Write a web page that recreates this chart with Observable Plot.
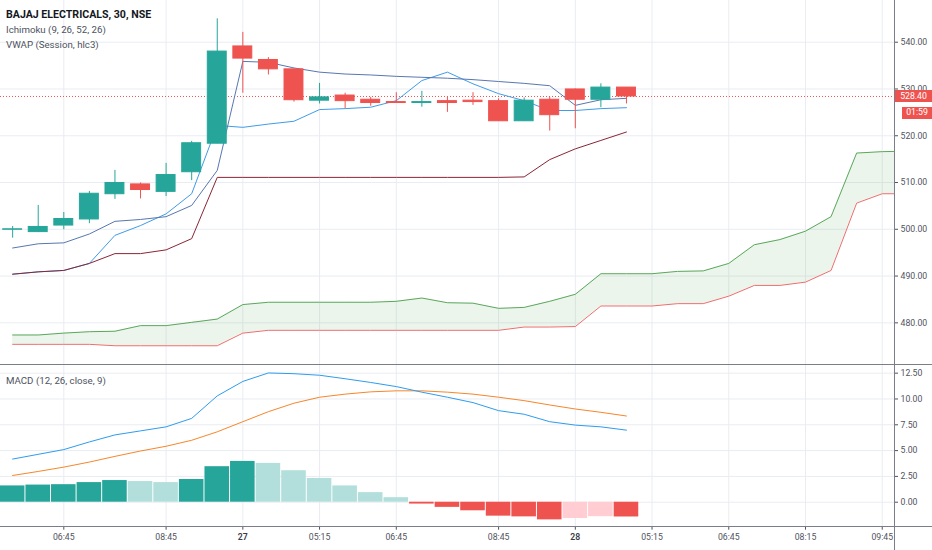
<!DOCTYPE html>
<html><head><meta charset="utf-8">
<script src="https://cdn.jsdelivr.net/npm/d3@7"></script>
<script src="https://cdn.jsdelivr.net/npm/@observablehq/plot@0.6"></script>
<style>
html,body{margin:0;padding:0;background:#fff;}
#wrap{position:relative;width:932px;height:550px;overflow:hidden;font-family:Roboto,sans-serif;background:#fff;}
#top{position:absolute;left:0;top:0;}
#bot{position:absolute;left:0;top:364px;}
.hl{position:absolute;left:0;width:932px;height:1px;background:#7b7e88;}
.vl{position:absolute;top:0;width:1px;height:550px;background:#7b7e88;}
.leg{position:absolute;left:6px;font-size:9.7px;line-height:9.7px;color:#4c525e;white-space:nowrap;}
.leg.title{color:#131722;font-weight:700;font-size:10.6px;line-height:10.6px;}
.tag{position:absolute;background:#ef5350;color:#fff;font-size:8.7px;text-align:center;white-space:nowrap;}
</style></head><body>
<div id="wrap">
  <div id="top"></div>
  <div id="bot"></div>
  <div class="hl" style="top:364px"></div>
  <div class="hl" style="top:526px"></div>
  <div class="vl" style="left:894px"></div>
  <div class="leg title" style="top:10.1px">BAJAJ ELECTRICALS, 30, NSE</div>
  <div class="leg" style="top:25.1px">Ichimoku (9, 26, 52, 26)</div>
  <div class="leg" style="top:39.5px">VWAP (Session, hlc3)</div>
  <div class="leg" style="top:375.8px">MACD (12, 26, close, 9)</div>
</div>
<script>
// ---- data (30-min bars, index 0 = first visible bar) ----
const open  = [499.9,499.4,500.8,502.1,507.5,509.6,508.0,512.2,518.3,539.1,536.2,534.2,527.5,528.6,527.7,527.2,527.0,527.4,527.5,527.4,523.1,527.7,529.9,527.7,530.3];
const high  = [500.6,505.1,503.6,508.1,512.6,509.9,514.1,518.8,545.0,542.1,536.7,534.2,531.2,529.1,528.2,529.2,529.5,528.2,529.2,527.9,528.1,528.2,530.0,531.1,530.3];
const low   = [498.1,499.3,499.9,501.2,506.4,506.5,507.0,510.4,518.3,529.1,533.0,527.2,526.8,525.8,526.3,526.9,526.1,525.0,526.5,523.1,523.1,521.0,521.5,526.0,526.8];
const close = [500.0,500.5,502.2,507.6,509.9,508.4,511.6,518.4,538.0,536.5,534.2,527.6,528.2,527.4,527.0,527.0,527.2,527.0,527.2,523.1,527.5,524.4,527.7,530.3,528.4];

const conversion = [490.4,490.9,491.2,492.7,498.7,500.8,503.3,507.6,522.2,521.8,522.5,523.1,525.6,525.8,526.1,527.5,531.8,533.6,531.1,529.0,527.5,525.4,525.4,525.8,526.0];
const baseLine   = [490.4,490.9,491.2,492.7,494.8,494.8,495.6,498.0,511.1,511.1,511.1,511.1,511.1,511.1,511.1,511.1,511.1,511.1,511.1,511.1,511.2,514.9,517.2,519.0,520.8];
const vwap       = [496.0,496.9,497.1,499.0,501.7,502.1,502.7,505.1,512.6,535.9,535.7,534.5,533.6,533.2,533.0,532.7,532.5,532.3,532.0,531.6,531.2,530.7,526.5,527.7,528.0];
const spanA = [477.4,477.4,477.8,478.1,478.2,479.4,479.4,480.1,480.8,483.9,484.4,484.4,484.4,484.4,484.4,484.6,485.3,484.3,484.2,483.1,483.3,484.6,486.1,490.5,490.5,490.5,491.0,491.1,492.7,496.7,497.8,499.6,502.7,516.3,516.6,516.7];
const spanB = [475.4,475.4,475.4,475.4,475.1,475.1,475.1,475.1,475.1,477.8,478.4,478.4,478.4,478.4,478.4,478.4,478.4,478.4,478.4,478.4,479.1,479.1,479.2,483.6,483.6,483.6,484.1,484.1,485.7,488.0,488.0,488.7,491.2,505.6,507.6,507.6];

const macd   = [4.18,4.64,5.10,5.84,6.52,6.91,7.30,8.12,10.3,11.7,12.52,12.45,12.3,11.96,11.6,11.2,10.66,10.17,9.65,8.87,8.52,7.8,7.47,7.3,6.98];
const signal = [2.59,2.98,3.40,3.89,4.44,4.96,5.42,6.0,6.82,7.8,8.77,9.59,10.17,10.47,10.69,10.79,10.79,10.66,10.47,10.17,9.84,9.42,9.03,8.71,8.35];
const hist   = [1.58,1.66,1.70,1.90,2.10,2.00,1.90,2.20,3.44,3.95,3.76,3.05,2.30,1.58,0.93,0.44,-0.18,-0.50,-0.83,-1.35,-1.42,-1.71,-1.58,-1.40,-1.43];

const xTicks  = [2,6,9,12,15,19,22,25,28,31,34];
const xLabels = ["06:45","08:45","27","05:15","06:45","08:45","28","05:15","06:45","08:15","09:45"];
const priceTicks = [480,490,500,510,520,530,540];
const macdTicks  = [0,2.5,5,7.5,10,12.5];
const countdown = "01:59";

// ---- tables ----
const UP = "#26a69a", DOWN = "#ef5350", GRID = "#e9ecf2";
const candles = open.map((o,i)=>({i, o, h:high[i], l:low[i], c:close[i], col: close[i] >= o ? UP : DOWN}));
const ser = arr => arr.map((v,i)=>({i, v}));
const cloud = spanA.map((a,i)=>({i, a, b: spanB[i]}));
const histData = hist.map((v,i)=>{
  const p = i > 0 ? hist[i-1] : -Infinity;
  const col = v >= 0 ? (v >= p ? "#26a69a" : "#b2dfdb") : (v < p ? "#ef5350" : "#ffcdd2");
  return {i, v, col};
});
const lastClose = close[close.length-1];
const xDomain = [-0.475, 34.48];
const style = {fontFamily:"Roboto, sans-serif", fontSize:"8.7px", color:"#50535e", background:"transparent", overflow:"visible"};
const fmt = d => d.toFixed(2);

const topPlot = Plot.plot({
  width: 932, height: 364,
  marginLeft: 0, marginRight: 38, marginTop: 0, marginBottom: 0,
  style,
  color: {type: "identity"},
  x: {domain: xDomain, axis: null},
  y: {domain: [471.09, 548.92], axis: "right", ticks: priceTicks, tickFormat: fmt, tickSize: 3, tickPadding: 3, label: null},
  marks: [
    Plot.ruleY(priceTicks, {stroke: GRID}),
    Plot.ruleX(xTicks, {stroke: GRID}),
    Plot.areaY(cloud, {x: "i", y1: "b", y2: "a", fill: "#43a047", fillOpacity: 0.1, clip: true}),
    Plot.line(cloud, {x: "i", y: "a", stroke: "#5aa85c", strokeWidth: 1, clip: true}),
    Plot.line(cloud, {x: "i", y: "b", stroke: "#ec6d6d", strokeWidth: 1, clip: true}),
    Plot.ruleY([lastClose], {stroke: "#ef5350", strokeDasharray: "1,2", strokeWidth: 1}),
    Plot.line(ser(conversion), {x: "i", y: "v", stroke: "#3f9ce8", strokeWidth: 1}),
    Plot.line(ser(baseLine), {x: "i", y: "v", stroke: "#8a2535", strokeWidth: 1}),
    Plot.line(ser(vwap), {x: "i", y: "v", stroke: "#5877b0", strokeWidth: 1}),
    Plot.ruleX(candles, {x: "i", y1: "l", y2: "h", stroke: "col", strokeWidth: 1}),
    Plot.rect(candles, {x1: d => d.i - 0.37, x2: d => d.i + 0.37, y1: "o", y2: "c", fill: "col", stroke: "col", strokeWidth: 1})
  ]
});
document.getElementById("top").appendChild(topPlot);

const botPlot = Plot.plot({
  width: 932, height: 186,
  marginLeft: 0, marginRight: 38, marginTop: 0, marginBottom: 23.3,
  style,
  color: {type: "identity"},
  x: {domain: xDomain, ticks: xTicks, tickFormat: d => xLabels[xTicks.indexOf(d)], tickSize: 3, tickPadding: 4, label: null},
  y: {domain: [-2.42, 13.34], axis: "right", ticks: macdTicks, tickFormat: fmt, tickSize: 3, tickPadding: 3, label: null},
  marks: [
    Plot.ruleY(macdTicks, {stroke: GRID}),
    Plot.ruleX(xTicks, {stroke: GRID}),
    Plot.rect(histData, {x1: d => d.i - 0.5, x2: d => d.i + 0.5, y1: 0, y2: "v", fill: "col", insetLeft: 0.5, insetRight: 0.5, clip: true}),
    Plot.line(ser(signal), {x: "i", y: "v", stroke: "#f7862a", strokeWidth: 1}),
    Plot.line(ser(macd), {x: "i", y: "v", stroke: "#2d9cf0", strokeWidth: 1})
  ]
});
document.getElementById("bot").appendChild(botPlot);
// day-change labels are slightly heavier
d3.select(botPlot).selectAll("text").filter(function(){ return /^\d\d$/.test(this.textContent); })
  .attr("font-weight", 600).attr("fill", "#3a3d46");

// price tag + countdown, positioned through the price scale
const py = topPlot.scale("y").apply(lastClose);
const wrap = document.getElementById("wrap");
const tag1 = document.createElement("div");
tag1.className = "tag";
Object.assign(tag1.style, {left: "895px", width: "37px", top: (py - 6) + "px", height: "12px", lineHeight: "12px"});
tag1.textContent = fmt(lastClose);
wrap.appendChild(tag1);
const tag2 = document.createElement("div");
tag2.className = "tag";
Object.assign(tag2.style, {left: "902px", width: "30px", top: (py + 11.4) + "px", height: "11.6px", lineHeight: "11.6px"});
tag2.textContent = countdown;
wrap.appendChild(tag2);
</script>
</body></html>
